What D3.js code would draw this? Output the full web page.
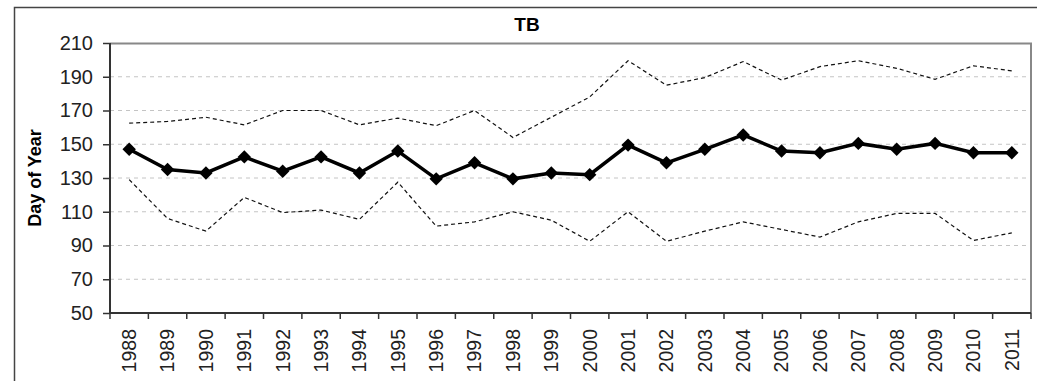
<!DOCTYPE html>
<html lang="en">
<head>
<meta charset="utf-8">
<title>TB</title>
<script src="https://d3js.org/d3.v7.min.js"></script>
<style>
  body { margin: 0; background: #fff; }
  text { font-family: "Liberation Sans", Arial, sans-serif; }
</style>
</head>
<body>
<div id="chart"></div>
<script>
// data
var years = ["1988","1989","1990","1991","1992","1993","1994","1995","1996","1997","1998","1999",
             "2000","2001","2002","2003","2004","2005","2006","2007","2008","2009","2010","2011"];
var meanDay = [147, 135, 133, 142.5, 134, 142.5, 133, 146, 129.5, 139, 129.5, 133,
               132, 149.5, 139, 147, 155.5, 146, 145, 150.5, 147, 150.5, 145, 145];
var upperDay = [162.5, 163.5, 166, 161.5, 170, 170, 161.5, 165.5, 161, 170, 154, 166,
                178, 199.5, 185, 189.5, 199, 188, 196, 199.5, 195, 188.5, 196.5, 193.5];
var lowerDay = [129, 106, 98.5, 118.5, 109.5, 111, 105.5, 127.5, 101.5, 104, 110, 105,
                92.5, 110, 92.5, 98.5, 104, 99.5, 95, 104, 109, 109, 93, 97.5];
var yTicks = [50, 70, 90, 110, 130, 150, 170, 190, 210];

var w = 1037, h = 381;
var margin = {top: 43, right: 6, bottom: 68, left: 110};
var innerWidth = w - margin.left - margin.right;
var innerHeight = h - margin.top - margin.bottom;

var svg = d3.select("#chart").append("svg")
  .attr("width", w)
  .attr("height", h);

// outer chart frame (only top and left edges are visible)
svg.append("path")
  .attr("d", `M14.5,${h}V7.5H${w}`)
  .attr("fill", "none")
  .attr("stroke", "#444")
  .attr("stroke-width", 1.5);

svg.append("text")
  .attr("x", 527).attr("y", 31)
  .attr("text-anchor", "middle")
  .attr("font-size", 19)
  .attr("font-weight", "bold")
  .text("TB");

var x = d3.scaleBand().domain(years).range([0, innerWidth]);
var y = d3.scaleLinear().domain([50, 210]).range([innerHeight, 0]);

var g = svg.append("g").attr("transform", `translate(${margin.left},${margin.top})`);

// gridlines
g.selectAll(".grid").data(yTicks.filter(d => d > 50 && d < 210)).enter().append("line")
  .attr("x1", 0).attr("x2", innerWidth)
  .attr("y1", d => y(d)).attr("y2", d => y(d))
  .attr("stroke", "#c4c4c4")
  .attr("stroke-dasharray", "4,4");

// plot area border (top / right)
g.append("path")
  .attr("d", `M0,0.5H${innerWidth}V${innerHeight}`)
  .attr("fill", "none")
  .attr("stroke", "#888")
  .attr("stroke-width", 2);

var yAxis = d3.axisLeft(y).tickValues(yTicks).tickSize(7).tickPadding(10);
var yG = g.append("g").call(yAxis);
yG.select(".domain").attr("stroke", "#333").attr("stroke-width", 2).attr("d", `M0,0V${innerHeight}`);
yG.selectAll(".tick line").attr("stroke", "#333").attr("stroke-width", 1.5);
yG.selectAll("text").attr("font-size", 20).attr("fill", "#222").style("font-family", "Liberation Sans, Arial, sans-serif");

var xAxis = d3.axisBottom(x).tickSize(0).tickPadding(0);
var xG = g.append("g").attr("transform", `translate(0,${innerHeight})`).call(xAxis);
xG.select(".domain").attr("stroke", "#333").attr("stroke-width", 2).attr("d", `M0,0H${innerWidth}`);
xG.selectAll("text")
  .attr("font-size", 19.5)
  .attr("fill", "#222")
  .style("font-family", "Liberation Sans, Arial, sans-serif")
  .attr("text-anchor", "end")
  .attr("dy", "0.35em")
  .attr("transform", "translate(0,16) rotate(-90)")
  .attr("x", 0).attr("y", 0);

// category boundary ticks
g.selectAll(".xtick").data(years.concat(["end"])).enter().append("line")
  .attr("x1", (d, i) => i * x.step()).attr("x2", (d, i) => i * x.step())
  .attr("y1", innerHeight).attr("y2", innerHeight + 6)
  .attr("stroke", "#333").attr("stroke-width", 1.5);

var cx = d => x(d) + x.bandwidth() / 2;

var line = function(vals) {
  return d3.line().x((d, i) => cx(years[i])).y(d => y(d))(vals);
};

g.append("path").attr("d", line(upperDay))
  .attr("fill", "none").attr("stroke", "#111").attr("stroke-width", 1.2)
  .attr("stroke-dasharray", "4,3");
g.append("path").attr("d", line(lowerDay))
  .attr("fill", "none").attr("stroke", "#111").attr("stroke-width", 1.2)
  .attr("stroke-dasharray", "4,3");

g.append("path").attr("d", line(meanDay))
  .attr("fill", "none").attr("stroke", "#000").attr("stroke-width", 3.5);

g.selectAll(".marker").data(meanDay).enter().append("path")
  .attr("d", d3.symbol(d3.symbolDiamond2, 115))
  .attr("transform", (d, i) => `translate(${cx(years[i])},${y(d)})`)
  .attr("fill", "#000");

svg.append("text")
  .attr("transform", `translate(41,${margin.top + innerHeight / 2}) rotate(-90)`)
  .attr("text-anchor", "middle")
  .attr("font-size", 18)
  .attr("font-weight", "bold")
  .text("Day of Year");
</script>
</body>
</html>
